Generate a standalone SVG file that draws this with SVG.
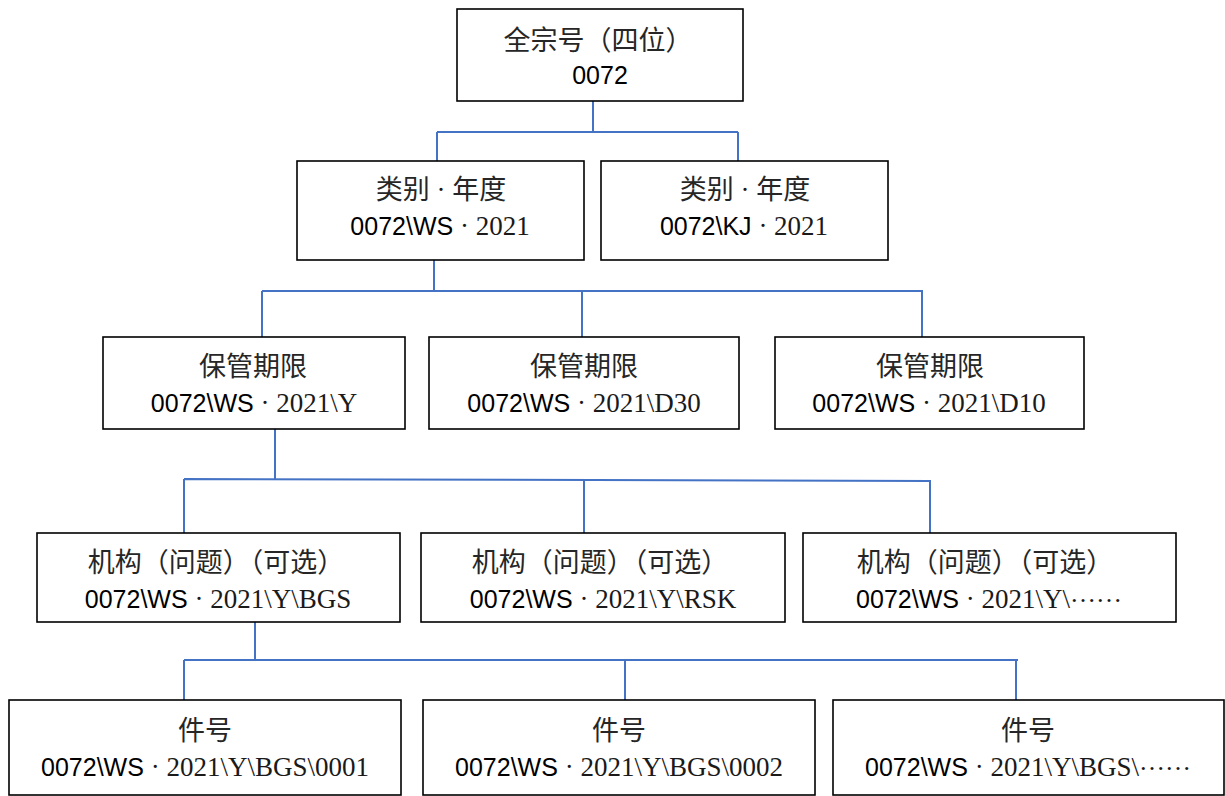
<svg xmlns="http://www.w3.org/2000/svg" width="1225" height="796" viewBox="0 0 1225 796">
<style>
.box{fill:#fff;stroke:#000;stroke-width:1.6}
.cn{font-family:"Noto Sans CJK SC","Noto Sans",sans-serif;font-size:27px;fill:#262626;text-anchor:middle}
.code{font-family:"Liberation Sans",Arial,sans-serif;font-size:25px;fill:#000;text-anchor:middle}
.sr{font-family:"Liberation Serif","Times New Roman",serif;font-size:27px;fill:#1a1a1a}
.el{font-family:"Liberation Serif","Times New Roman",serif;font-size:26px;fill:#1a1a1a}
.conn{fill:none;stroke:#4472C4;stroke-width:2}
</style>
<rect width="1225" height="796" fill="#fff"/>
<g id="connectors" class="conn">
<path d="M593 101V132M437 132H738M437 132V161M738 132V161"/>
<path d="M434 260V291M262 291H923M262 291V337M582 291V337M922 291V337"/>
<path d="M275 429V479M184 479L931 481M184 479V533M584 480V533M930 481V533"/>
<path d="M255 622V660M184 660H1018M184 660V700M625 660V700M1016 660V700"/>
</g>
<g id="n1"><rect class="box" x="457" y="9" width="286" height="92"/>
<text class="cn" x="598" y="50">全宗号（四位）</text>
<text class="code" x="600" y="84">0072</text></g>
<g id="n2a"><rect class="box" x="297" y="161" width="287" height="99"/>
<text class="cn" x="441" y="199">类别<tspan class="sr"> · </tspan>年度</text>
<text class="code" x="440" y="235">0072\WS<tspan class="sr"> · 2021</tspan></text></g>
<g id="n2b"><rect class="box" x="601" y="161" width="287" height="99"/>
<text class="cn" x="745" y="199">类别<tspan class="sr"> · </tspan>年度</text>
<text class="code" x="744" y="235">0072\KJ<tspan class="sr"> · 2021</tspan></text></g>
<g id="n3a"><rect class="box" x="103" y="337" width="302" height="92"/>
<text class="cn" x="253" y="376">保管期限</text>
<text class="code" x="254" y="412">0072\WS<tspan class="sr"> · 2021\Y</tspan></text></g>
<g id="n3b"><rect class="box" x="429" y="337" width="310" height="92"/>
<text class="cn" x="584" y="376">保管期限</text>
<text class="code" x="584" y="412">0072\WS<tspan class="sr"> · 2021\D30</tspan></text></g>
<g id="n3c"><rect class="box" x="775" y="337" width="309" height="92"/>
<text class="cn" x="930" y="376">保管期限</text>
<text class="code" x="929" y="412">0072\WS<tspan class="sr"> · 2021\D10</tspan></text></g>
<g id="n4a"><rect class="box" x="37" y="533" width="363" height="89"/>
<text class="cn" x="216" y="572">机构（问题）（可选）</text>
<text class="code" x="218" y="608">0072\WS<tspan class="sr"> · 2021\Y\BGS</tspan></text></g>
<g id="n4b"><rect class="box" x="421" y="533" width="364" height="89"/>
<text class="cn" x="600" y="572">机构（问题）（可选）</text>
<text class="code" x="603" y="608">0072\WS<tspan class="sr"> · 2021\Y\RSK</tspan></text></g>
<g id="n4c"><rect class="box" x="803" y="533" width="373" height="89"/>
<text class="cn" x="985" y="572">机构（问题）（可选）</text>
<text class="code" x="989" y="608">0072\WS<tspan class="sr"> · 2021\Y\</tspan><tspan class="el" dy="-6">……</tspan></text></g>
<g id="n5a"><rect class="box" x="9" y="700" width="392" height="95"/>
<text class="cn" x="205" y="740">件号</text>
<text class="code" x="205" y="776">0072\WS<tspan class="sr"> · 2021\Y\BGS\0001</tspan></text></g>
<g id="n5b"><rect class="box" x="423" y="700" width="392" height="95"/>
<text class="cn" x="619" y="740">件号</text>
<text class="code" x="619" y="776">0072\WS<tspan class="sr"> · 2021\Y\BGS\0002</tspan></text></g>
<g id="n5c"><rect class="box" x="833" y="700" width="391" height="95"/>
<text class="cn" x="1028" y="740">件号</text>
<text class="code" x="1028" y="776">0072\WS<tspan class="sr"> · 2021\Y\BGS\</tspan><tspan class="el" dy="-6">……</tspan></text></g>
</svg>
